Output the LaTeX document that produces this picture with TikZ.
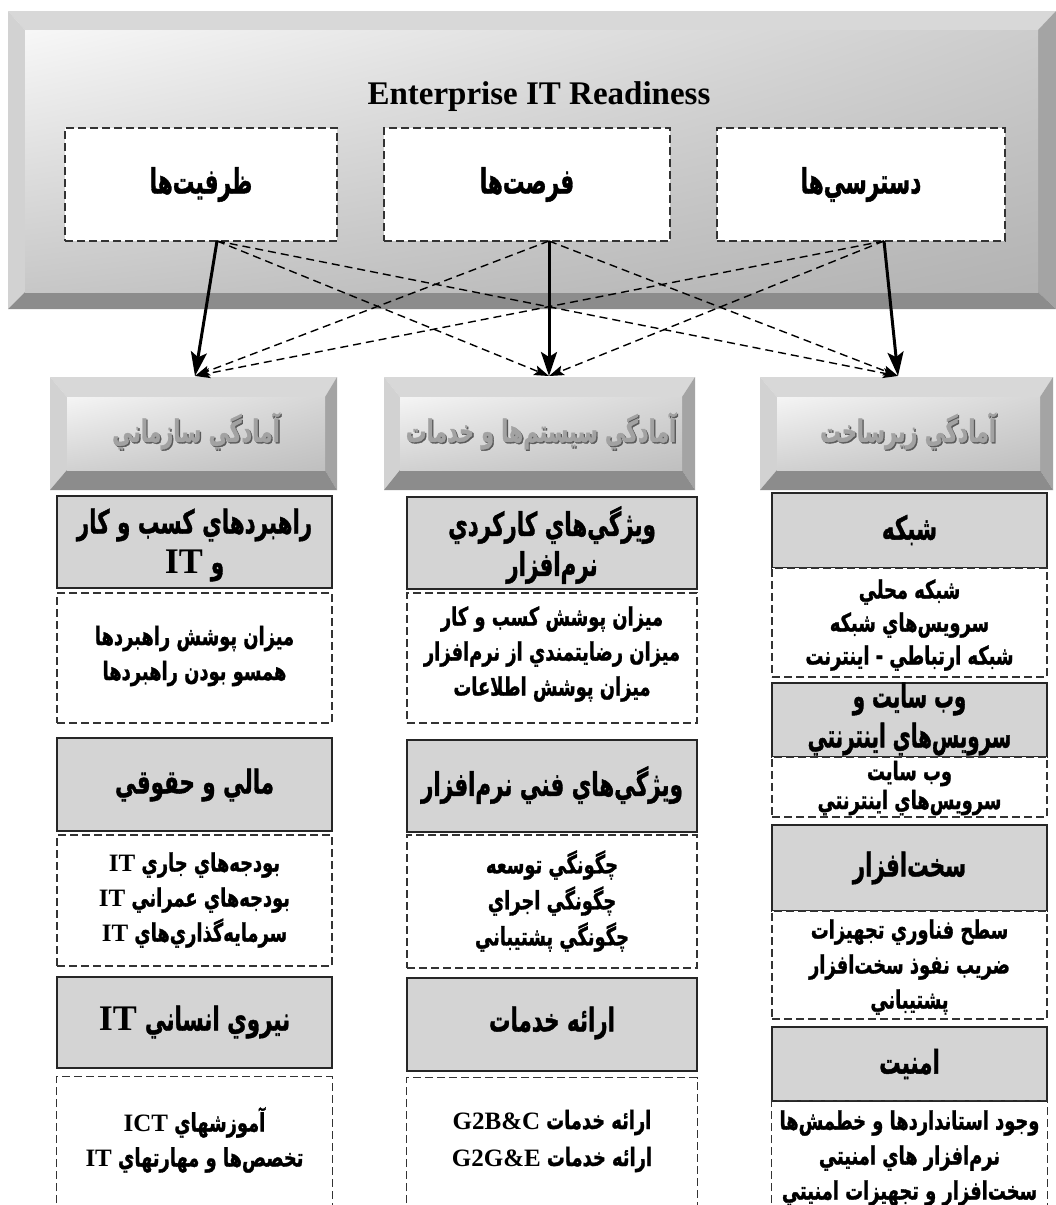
\documentclass[tikz,border=0pt]{standalone}
\usepackage{fontspec}
\usepackage{graphicx}
\setmainfont{Liberation Serif}
\newfontfamily\fa[Script=Arabic,BoldFeatures={FakeBold=1.4}]{DejaVu Sans}
\TeXXeTstate=1
\usetikzlibrary{arrows.meta,fit,shadings}
\definecolor{boxgray}{HTML}{D4D4D4}
\definecolor{bvtopc}{HTML}{D8D8D8}
\definecolor{bvleftc}{HTML}{D2D2D2}
\definecolor{bvrightc}{HTML}{A4A4A4}
\definecolor{bvbotc}{HTML}{8C8C8C}
\definecolor{lvtext}{HTML}{A2A2A2}
\definecolor{lvshadow}{HTML}{5A5A5A}
\newcommand\hs{1}
\newcommand\vs{1}
\newcommand\ar[1]{\scalebox{\hs}[\vs]{\beginR #1\endR}}
\newcommand\la[2][25]{{\rmfamily\bfseries\fontsize{#1}{#1}\selectfont #2}}
\newcommand\mybevel[9]{%
  \fill[bvtopc] (#1,#2) -- (#3,#2) -- (#7,#6) -- (#5,#6) -- cycle;
  \fill[bvleftc] (#1,#2) -- (#5,#6) -- (#5,#8) -- (#1,#4) -- cycle;
  \fill[bvrightc] (#3,#2) -- (#3,#4) -- (#7,#8) -- (#7,#6) -- cycle;
  \fill[bvbotc] (#1,#4) -- (#5,#8) -- (#7,#8) -- (#3,#4) -- cycle;
  \shade[#9] (#5,#6) rectangle (#7,#8);}
\begin{document}
\begin{tikzpicture}[x=1pt,y=-1pt,
  graybox/.style={draw=black!85, line width=1.5pt, fill=boxgray, inner sep=0pt},
  dashbox/.style={draw=black!80, line width=1.3pt, dash pattern=on 8pt off 4pt, fill=white, inner sep=0pt},
  dashline/.style={draw=black!80, line width=1.3pt, dash pattern=on 8pt off 4pt},
  region/.style={inner sep=0pt},
  head/.style={font={\fa\bfseries\fontsize{23}{#1}\selectfont\def\hs{0.93}\def\vs{1.42}}, align=center, inner sep=0pt},
  head/.default=40,
  headn/.style={font={\fa\bfseries\fontsize{23}{#1}\selectfont\def\hs{0.86}\def\vs{1.42}}, align=center, inner sep=0pt},
  headn/.default=40,
  item/.style={font={\fa\bfseries\fontsize{17.5}{#1}\selectfont\def\hs{1.02}\def\vs{1.45}}, align=center, inner sep=0pt},
  item/.default=35,
  toplab/.style={font={\fa\bfseries\fontsize{24}{28}\selectfont\def\hs{0.9}\def\vs{1.45}}, inner sep=0pt},
  lvl/.style={font={\fa\bfseries\fontsize{22}{26}\selectfont\def\hs{0.94}\def\vs{1.4}}, inner sep=0pt, text=lvtext},
  lvls/.style={lvl, text=lvshadow},
  bigface/.style={upper left=white!97!black, upper right=white!80!black, lower left=white!78!black, lower right=white!70!black},
  smallface/.style={upper left=white!96!black, upper right=white!84!black, lower left=white!82!black, lower right=white!75!black},
  solidarr/.style={line width=3pt, -{Stealth[length=24pt,width=16pt,inset=5pt]}},
  dasharr/.style={line width=1.4pt, dash pattern=on 8pt off 5pt, -{Stealth[length=15pt,width=10pt,inset=3pt]}},
]
\useasboundingbox[fill=white] (0,0) rectangle (1056,1205);

% ---- top readiness box
\mybevel{8}{11}{1056}{309}{25}{30}{1038}{292}{bigface}
\node[region, fit={(8,11) (1056,309)}] (top) {};
\node[font=\bfseries\fontsize{33}{36}\selectfont, anchor=base, inner sep=0pt] (title) at (539,104) {Enterprise IT Readiness};

\node[dashbox, fit={(65,128) (337,241)}] (cap) {};
\node[dashbox, fit={(384,128) (670,241)}] (opp) {};
\node[dashbox, fit={(717,128) (1005,241)}] (acc) {};
\node[toplab] (capt) at (cap.center) {\ar{ظرفيت^^^^200cها}};
\node[toplab] (oppt) at (opp.center) {\ar{فرصت^^^^200cها}};
\node[toplab] (acct) at (acc.center) {\ar{دسترسي^^^^200cها}};

% ---- second level bevel boxes
\mybevel{50}{377}{337}{490}{67}{397}{325}{470}{smallface}
\mybevel{384}{377}{695}{490}{400}{397}{682}{470}{smallface}
\mybevel{760}{377}{1053}{490}{777}{397}{1040}{470}{smallface}
\node[region, fit={(50,377) (337,490)}] (org) {};
\node[region, fit={(384,377) (695,490)}] (sys) {};
\node[region, fit={(760,377) (1053,490)}] (inf) {};
\node[lvls] (orgs) at (197.3,432.3) {\ar{آمادگي سازماني}};
\node[lvl] (orgt) at (196,431) {\ar{آمادگي سازماني}};
\node[lvls] (syss) at (542.3,432.3) {\ar{آمادگي سيستم^^^^200cها و خدمات}};
\node[lvl] (syst) at (541,431) {\ar{آمادگي سيستم^^^^200cها و خدمات}};
\node[lvls] (infs) at (909.3,432.3) {\ar{آمادگي زيرساخت}};
\node[lvl] (inft) at (908,431) {\ar{آمادگي زيرساخت}};

% ---- arrows
\coordinate (s1) at (217,241);
\coordinate (s2) at (549,241);
\coordinate (s3) at (884,241);
\coordinate (e1) at (195,376);
\coordinate (e2) at (549,376);
\coordinate (e3) at (898,376);
\draw[dasharr] (s1) -- (e2);
\draw[dasharr] (s1) -- (e3);
\draw[dasharr] (s2) -- (e1);
\draw[dasharr] (s2) -- (e3);
\draw[dasharr] (s3) -- (e1);
\draw[dasharr] (s3) -- (e2);
\draw[solidarr] (s1) -- (e1);
\draw[solidarr] (s2) -- (e2);
\draw[solidarr] (s3) -- (e3);

% ---- left column
\node[graybox, fit={(57,496) (332,588)}] (lg1) {};
\node[dashbox, fit={(57,593) (332,723)}] (ld1) {};
\node[graybox, fit={(57,738) (332,831)}] (lg2) {};
\node[dashbox, fit={(57,835) (332,966)}] (ld2) {};
\node[graybox, fit={(57,977) (332,1068)}] (lg3) {};
\node[region, fit={(57,1077) (332,1215)}] (ld3) {};
\draw[dashline] (ld3.south west) -- (ld3.north west) -- (ld3.north east) -- (ld3.south east);

\node[head] (lg1t) at (194.5,545) {\ar{راهبردهاي كسب و كار}\\\la[36]{IT} \ar{و}};
\node[item] (ld1t) at (194.5,656) {\ar{ميزان پوشش راهبردها}\\\ar{همسو بودن راهبردها}};
\node[head] (lg2t) at (194.5,785) {\ar{مالي و حقوقي}};
\node[item] (ld2t) at (194.5,900) {\la{IT} \ar{بودجه^^^^200cهاي جاري}\\\la{IT} \ar{بودجه^^^^200cهاي عمراني}\\\la{IT} \ar{سرمايه^^^^200cگذاري^^^^200cهاي}};
\node[head] (lg3t) at (194.5,1022) {\la[36]{IT} \ar{نيروي انساني}};
\node[item] (ld3t) at (194.5,1140) {\la{ICT} \ar{آموزشهاي}\\\la{IT} \ar{تخصص^^^^200cها و مهارتهاي}};

% ---- middle column
\node[graybox, fit={(407,497) (697,589)}] (mg1) {};
\node[dashbox, fit={(407,593) (697,723)}] (md1) {};
\node[graybox, fit={(407,740) (697,832)}] (mg2) {};
\node[dashbox, fit={(407,835) (697,968)}] (md2) {};
\node[graybox, fit={(407,978) (697,1071)}] (mg3) {};
\node[region, fit={(407,1078) (697,1215)}] (md3) {};
\draw[dashline] (md3.south west) -- (md3.north west) -- (md3.north east) -- (md3.south east);

\node[head] (mg1t) at (552,545) {\ar{ويژگي^^^^200cهاي كاركردي}\\\ar{نرم^^^^200cافزار}};
\node[item] (md1t) at (552,654) {\ar{ميزان پوشش كسب و كار}\\\ar{ميزان رضايتمندي از نرم^^^^200cافزار}\\\ar{ميزان پوشش اطلاعات}};
\node[head] (mg2t) at (552,785) {\ar{ويژگي^^^^200cهاي فني نرم^^^^200cافزار}};
\node[item=36] (md2t) at (552,901) {\ar{چگونگي توسعه}\\\ar{چگونگي اجراي}\\\ar{چگونگي پشتيباني}};
\node[head] (mg3t) at (552,1023) {\ar{ارائه خدمات}};
\node[item=37] (md3t) at (552,1141) {\la{G2B\&C} \ar{ارائه خدمات}\\\la{G2G\&E} \ar{ارائه خدمات}};

% ---- right column
\node[graybox, fit={(772,493) (1047,568)}] (rg1) {};
\node[dashbox, fit={(772,568) (1047,677)}] (rd1) {};
\node[graybox, fit={(772,683) (1047,757)}] (rg2) {};
\node[dashbox, fit={(772,757) (1047,817)}] (rd2) {};
\node[graybox, fit={(772,825) (1047,911)}] (rg3) {};
\node[dashbox, fit={(772,911) (1047,1019)}] (rd3) {};
\node[graybox, fit={(772,1027) (1047,1101)}] (rg4) {};
\node[region, fit={(772,1101) (1047,1215)}] (rd4) {};
\draw[dashline] (rd4.south west) -- (rd4.north west) -- (rd4.north east) -- (rd4.south east);

\node[head] (rg1t) at (909.5,530) {\ar{شبكه}};
\node[item=33] (rd1t) at (909.5,625) {\ar{شبكه محلي}\\\ar{سرويس^^^^200cهاي شبكه}\\\ar{شبكه ارتباطي - اينترنت}};
\node[headn] (rg2t) at (909.5,719) {\ar{وب سايت و}\\\ar{سرويس^^^^200cهاي اينترنتي}};
\node[item=29] (rd2t) at (909.5,788) {\ar{وب سايت}\\\ar{سرويس^^^^200cهاي اينترنتي}};
\node[head] (rg3t) at (909.5,868) {\ar{سخت^^^^200cافزار}};
\node[item] (rd3t) at (909.5,967) {\ar{سطح فناوري تجهيزات}\\\ar{ضريب نفوذ سخت^^^^200cافزار}\\\ar{پشتيباني}};
\node[head] (rg4t) at (909.5,1064) {\ar{امنيت}};
\node[item] (rd4t) at (909.5,1158) {\ar{وجود استانداردها و خطمش^^^^200cها}\\\ar{نرم^^^^200cافزار هاي امنيتي}\\\ar{سخت^^^^200cافزار و تجهيزات امنيتي}};
\end{tikzpicture}
\end{document}
